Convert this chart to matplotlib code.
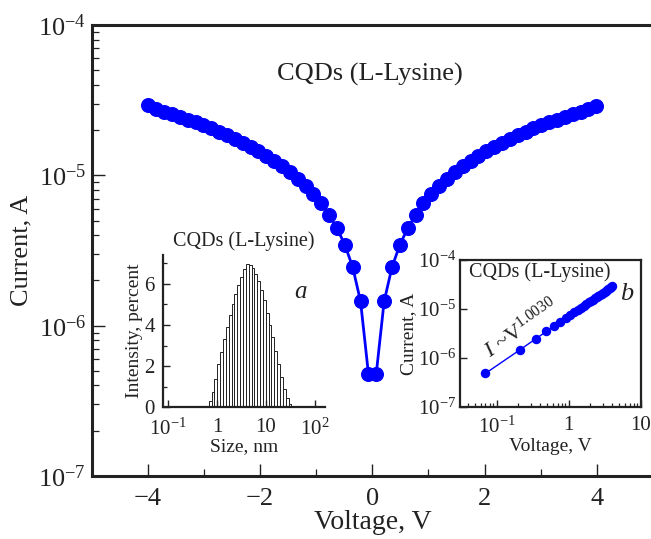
import numpy as np
import matplotlib
matplotlib.use("Agg")
import matplotlib.pyplot as plt
from matplotlib.ticker import LogLocator, FixedLocator, NullFormatter, MultipleLocator

plt.rcParams["font.family"] = ["Liberation Serif", "DejaVu Serif"]
plt.rcParams["mathtext.fontset"] = "custom"
plt.rcParams["mathtext.rm"] = "Liberation Serif"
plt.rcParams["mathtext.it"] = "Liberation Serif:italic"
plt.rcParams["axes.unicode_minus"] = True

BLUE = "#0000ff"
INK = "#222222"

# I-V, positive branch (V) and currents (A)
volt_pos = [0.07, 0.21, 0.35, 0.49, 0.63, 0.77, 0.91, 1.05, 1.19, 1.33,
            1.47, 1.61, 1.75, 1.89, 2.03, 2.17, 2.31, 2.45, 2.59, 2.73,
            2.87, 3.01, 3.15, 3.29, 3.43, 3.57, 3.71, 3.85, 3.99]
curr_pos = [4.8e-7, 1.45e-6, 2.45e-6, 3.45e-6, 4.45e-6, 5.45e-6, 6.5e-6, 7.5e-6, 8.5e-6, 9.5e-6,
            1.05e-5, 1.15e-5, 1.25e-5, 1.35e-5, 1.45e-5, 1.55e-5, 1.65e-5, 1.75e-5, 1.85e-5, 1.95e-5,
            2.05e-5, 2.15e-5, 2.25e-5, 2.35e-5, 2.45e-5, 2.55e-5, 2.65e-5, 2.75e-5, 2.9e-5]
# negative branch, listed from -0.07 down to -3.99
volt_neg = [-0.07, -0.21, -0.35, -0.49, -0.63, -0.77, -0.91, -1.05, -1.19, -1.33,
            -1.47, -1.61, -1.75, -1.89, -2.03, -2.17, -2.31, -2.45, -2.59, -2.73,
            -2.87, -3.01, -3.15, -3.29, -3.43, -3.57, -3.71, -3.85, -3.99]
curr_neg = [4.8e-7, 1.45e-6, 2.45e-6, 3.45e-6, 4.45e-6, 5.45e-6, 6.5e-6, 7.5e-6, 8.5e-6, 9.5e-6,
            1.05e-5, 1.15e-5, 1.25e-5, 1.35e-5, 1.45e-5, 1.55e-5, 1.65e-5, 1.75e-5, 1.85e-5, 1.95e-5,
            2.05e-5, 2.15e-5, 2.25e-5, 2.35e-5, 2.45e-5, 2.55e-5, 2.65e-5, 2.75e-5, 2.95e-5]

# size distribution (inset a)
size_lo, size_hi = 0.68, 33.0
intensity = [0.3, 0.75, 1.4, 2.1, 2.7, 3.3, 3.9, 4.5, 5.0, 5.5,
             5.95, 6.35, 6.7, 6.95, 6.9, 6.75, 6.5, 6.15, 5.7, 5.2,
             4.6, 4.0, 3.4, 2.75, 2.1, 1.45, 0.9, 0.45, 0.15]

main_yticks = [1e-7, 1e-6, 1e-5, 1e-4]
main_yticklabels = [r"$10^{-7}$", r"$10^{-6}$", r"$10^{-5}$", r"$10^{-4}$"]


def style_axis(ax, major, minor, width):
    for s in ax.spines.values():
        s.set_linewidth(width)
        s.set_color(INK)
    ax.tick_params(which="major", direction="in", length=major, width=1.0, color=INK)
    ax.tick_params(which="minor", direction="in", length=minor, width=0.9, color=INK)


fig = plt.figure(figsize=(6.51, 5.39), dpi=100)

# main panel
ax = fig.add_axes([0.1409, 0.1169, 0.8621, 0.8367])
V = volt_neg[::-1] + volt_pos
I = curr_neg[::-1] + curr_pos
ax.plot(V, I, "-o", color=BLUE, lw=2.0, ms=9.8, mec=BLUE, mfc=BLUE, clip_on=False)
ax.set_yscale("log")
ax.set_xlim(-5, 5)
ax.set_ylim(1e-7, 1e-4)
ax.set_xticks([-4, -2, 0, 2, 4])
ax.xaxis.set_minor_locator(MultipleLocator(1))
ax.yaxis.set_major_locator(FixedLocator(main_yticks))
ax.set_yticklabels(main_yticklabels)
ax.yaxis.set_minor_locator(LogLocator(base=10, subs=np.arange(2, 10)))
ax.yaxis.set_minor_formatter(NullFormatter())
style_axis(ax, 9, 5, 2.2)
ax.tick_params(labelsize=19, colors=INK, pad=6)
ax.tick_params(axis="x", pad=9)
ax.tick_params(axis="y", pad=4)
ax.set_xlabel("Voltage, V", fontsize=20, color=INK, labelpad=0)
ax.set_ylabel("Current, A", fontsize=19, color=INK, labelpad=4)
ax.text(-0.05, 4.66e-5, "CQDs (L-Lysine)", fontsize=19, color=INK, ha="center", va="center")

# inset a: size distribution
axa = fig.add_axes([0.2508, 0.2443, 0.2484, 0.2826])
edges = np.geomspace(size_lo, size_hi, len(intensity) + 1)
axa.bar(edges[:-1], intensity, width=np.diff(edges), align="edge",
        color="white", edgecolor=INK, linewidth=0.7)
axa.set_xscale("log")
axa.set_xlim(0.08, 160)
axa.set_ylim(0, 7.4)
axa.spines["top"].set_visible(False)
axa.spines["right"].set_visible(False)
axa.set_yticks([0, 2, 4, 6])
axa.yaxis.set_minor_locator(MultipleLocator(1))
axa.xaxis.set_major_locator(FixedLocator([0.1, 1, 10, 100]))
axa.set_xticklabels([r"$10^{-1}$", "1", "10", r"$10^{2}$"])
axa.xaxis.set_minor_locator(LogLocator(base=10, subs=np.arange(2, 10)))
axa.xaxis.set_minor_formatter(NullFormatter())
style_axis(axa, 5, 3, 1.6)
axa.tick_params(labelsize=15, colors=INK, pad=2)
axa.tick_params(axis="x", pad=8)
axa.tick_params(axis="y", pad=6)
axa.set_xlabel("Size, nm", fontsize=14, color=INK, labelpad=-1)
axa.set_ylabel("Intensity, percent", fontsize=14, color=INK, labelpad=1)
axa.text(0.5, 1.09, "CQDs (L-Lysine)", transform=axa.transAxes, fontsize=14.5,
         color=INK, ha="center", va="center")
axa.text(0.85, 0.76, "a", transform=axa.transAxes, fontsize=18, style="italic",
         color=INK, ha="center", va="center")

# inset b: log-log I-V
axb = fig.add_axes([0.7066, 0.2455, 0.2776, 0.2722])
axb.plot(volt_pos, curr_pos, "-o", color=BLUE, lw=1.0, ms=5.8, mec=BLUE, mfc=BLUE)
axb.set_xscale("log")
axb.set_yscale("log")
axb.set_xlim(0.031, 10)
axb.set_ylim(1e-7, 1e-4)
axb.xaxis.set_major_locator(FixedLocator([0.1, 1, 10]))
axb.set_xticklabels([r"$10^{-1}$", "1", "10"])
axb.xaxis.set_minor_locator(LogLocator(base=10, subs=np.arange(2, 10)))
axb.xaxis.set_minor_formatter(NullFormatter())
axb.yaxis.set_major_locator(FixedLocator(main_yticks))
axb.set_yticklabels(main_yticklabels)
axb.yaxis.set_minor_locator(LogLocator(base=10, subs=np.arange(2, 10)))
axb.yaxis.set_minor_formatter(NullFormatter())
style_axis(axb, 5, 3, 1.6)
axb.tick_params(labelsize=15, colors=INK, pad=3)
axb.tick_params(axis="x", pad=7)
axb.set_xlabel("Voltage, V", fontsize=14, color=INK, labelpad=0)
axb.set_ylabel("Current, A", fontsize=14, color=INK, labelpad=0)
axb.text(0.05, 0.92, "CQDs (L-Lysine)", transform=axb.transAxes, fontsize=14.5,
         color=INK, ha="left", va="center")
axb.text(0.92, 0.77, "b", transform=axb.transAxes, fontsize=19, style="italic",
         color=INK, ha="center", va="center")
axb.text(0.34, 0.53, r"$I$ ~V$^{1.0030}$", transform=axb.transAxes, fontsize=16,
         color=INK, ha="center", va="center", rotation=35)

fig.savefig("out.png", dpi=100)
